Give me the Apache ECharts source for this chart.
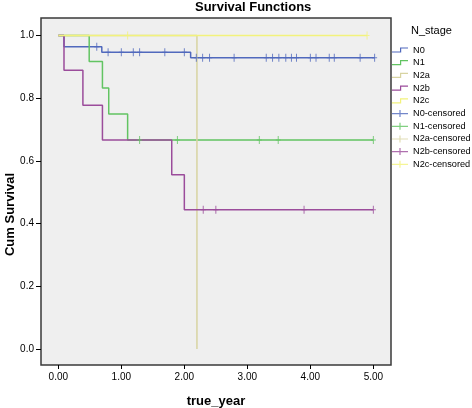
<!DOCTYPE html>
<html>
<head>
<meta charset="utf-8">
<script src="https://cdn.jsdelivr.net/npm/echarts@6/dist/echarts.min.js"></script>
<style>html,body{margin:0;padding:0;background:#fff;}#c{width:472px;height:408px;}</style>
</head>
<body>
<div id="c"></div>
<script>
// ---- data ----
const xTicks = [0, 1, 2, 3, 4, 5];
const yTicks = [0, 0.2, 0.4, 0.6, 0.8, 1.0];

const seriesNames = ['N0', 'N1', 'N2a', 'N2b', 'N2c'];

// step curves: time of each step and survival after it
const n0Time = [0, 0.09, 0.69, 2.10, 5.02];
const n0Surv = [1.0, 0.964, 0.947, 0.929, 0.929];
const n1Time = [0, 0.49, 0.70, 0.80, 1.10, 5.0];
const n1Surv = [1.0, 0.917, 0.833, 0.750, 0.667, 0.667];
const n2aTime = [0, 2.20];
const n2aSurv = [1.0, 0.0];
const n2bTime = [0, 0.09, 0.39, 0.70, 1.80, 2.00, 5.0];
const n2bSurv = [1.0, 0.889, 0.778, 0.667, 0.556, 0.444, 0.444];
const n2cTime = [0, 4.90];
const n2cSurv = [1.0, 1.0];

// censored observations
const n0CensTime = [0.61, 0.79, 1.00, 1.19, 1.29, 1.69, 2.00, 2.19, 2.29, 2.40, 2.79, 3.30, 3.40, 3.50, 3.61, 3.70, 3.78, 4.00, 4.09, 4.30, 4.38, 4.79, 5.02];
const n0CensSurv = [0.964, 0.947, 0.947, 0.947, 0.947, 0.947, 0.947, 0.929, 0.929, 0.929, 0.929, 0.929, 0.929, 0.929, 0.929, 0.929, 0.929, 0.929, 0.929, 0.929, 0.929, 0.929, 0.929];
const n1CensTime = [1.29, 1.89, 3.19, 3.49, 5.00];
const n1CensSurv = [0.667, 0.667, 0.667, 0.667, 0.667];
const n2aCensTime = [];
const n2aCensSurv = [];
const n2bCensTime = [2.30, 2.50, 3.90, 5.00];
const n2bCensSurv = [0.444, 0.444, 0.444, 0.444];
const n2cCensTime = [1.10, 4.90];
const n2cCensSurv = [1.0, 1.0];

// ---- build chart ----
const colors = ['#5069bd', '#62c462', '#d8d4a2', '#9b4c9b', '#f2f27c'];
const curves = [[n0Time, n0Surv], [n1Time, n1Surv], [n2aTime, n2aSurv], [n2bTime, n2bSurv], [n2cTime, n2cSurv]];
const cens = [[n0CensTime, n0CensSurv], [n1CensTime, n1CensSurv], [n2aCensTime, n2aCensSurv], [n2bCensTime, n2bCensSurv], [n2cCensTime, n2cCensSurv]];
const zip = (a, b) => a.map((v, i) => [v, b[i]]);

const stepIcon = 'path://M0,5 L8,5 L8,1 L16,1 L16,2.2 L9.2,2.2 L9.2,6.2 L0,6.2 Z';
const censIcon = 'path://M0,3 L7.4,3 L7.4,0 L8.6,0 L8.6,3 L16,3 L16,4.2 L8.6,4.2 L8.6,7 L7.4,7 L7.4,4.2 L0,4.2 Z';
const plusSymbol = 'path://M2,0 L3,0 L3,3.5 L5,3.5 L5,4.5 L3,4.5 L3,8 L2,8 L2,4.5 L0,4.5 L0,3.5 L2,3.5 Z';

const series = [];
const legendData = [];
seriesNames.forEach((n, i) => {
  series.push({
    name: n, type: 'line', step: 'end', showSymbol: false, symbol: 'none',
    data: zip(curves[i][0], curves[i][1]),
    lineStyle: { color: colors[i], width: 1.5 }, itemStyle: { color: colors[i] },
    z: 2 + i, animation: false, silent: true
  });
  legendData.push({ name: n, icon: stepIcon });
});
seriesNames.forEach((n, i) => {
  series.push({
    name: n + '-censored', type: 'scatter', symbol: plusSymbol, symbolSize: [5, 8],
    data: zip(cens[i][0], cens[i][1]),
    itemStyle: { color: colors[i] }, z: 10 + i, animation: false, silent: true
  });
  legendData.push({ name: n + '-censored', icon: censIcon });
});

const FONT = "'Liberation Sans', Arial, sans-serif";
const chart = echarts.init(document.getElementById('c'), null, { renderer: 'canvas' });
chart.setOption({
  animation: false,
  backgroundColor: '#ffffff',
  title: [
    { text: 'Survival Functions', left: 195, top: 1, padding: 0,
      textStyle: { fontFamily: FONT, fontSize: 13, fontWeight: 'bold', color: '#000' } },
    { text: 'N_stage', left: 411, top: 25, padding: 0,
      textStyle: { fontFamily: FONT, fontSize: 11, fontWeight: 'normal', color: '#000' } }
  ],
  legend: {
    orient: 'vertical', left: 392, top: 45, padding: 0, itemWidth: 16, itemHeight: 7, itemGap: 2.7,
    selectedMode: false, data: legendData,
    textStyle: { fontFamily: FONT, fontSize: 9.2, lineHeight: 10, color: '#000' }
  },
  grid: {
    left: 41, right: 81, top: 18, bottom: 43, show: true, containLabel: false, outerBoundsMode: 'none',
    backgroundColor: '#efefef', borderColor: '#3a3a3a', borderWidth: 1.5
  },
  xAxis: {
    type: 'value', min: -0.275, max: 5.28,
    name: 'true_year', nameLocation: 'middle', nameGap: 30, nameMoveOverlap: false,
    nameTextStyle: { fontFamily: FONT, fontSize: 13, fontWeight: 'bold', color: '#000' },
    axisLine: { show: false, onZero: false },
    axisTick: { show: true, inside: false, customValues: xTicks, length: 4, lineStyle: { color: '#000' } },
    axisLabel: { customValues: xTicks, formatter: v => v.toFixed(2), margin: 7,
      fontFamily: FONT, fontSize: 10, color: '#000' },
    splitLine: { show: false }
  },
  yAxis: {
    type: 'value', min: -0.051, max: 1.056,
    name: 'Cum Survival', nameLocation: 'middle', nameGap: 24, nameMoveOverlap: false,
    nameTextStyle: { fontFamily: FONT, fontSize: 13, fontWeight: 'bold', color: '#000', padding: [0, 46, 0, 0] },
    axisLine: { show: false, onZero: false },
    axisTick: { show: true, inside: false, customValues: yTicks, length: 5, lineStyle: { color: '#000' } },
    axisLabel: { customValues: yTicks, formatter: v => v.toFixed(1), margin: 7,
      fontFamily: FONT, fontSize: 10, color: '#000' },
    splitLine: { show: false }
  },
  series: series
});
</script>
</body>
</html>
